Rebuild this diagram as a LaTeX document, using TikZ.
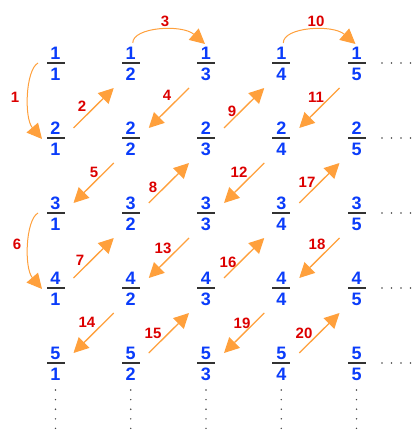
\documentclass[tikz,border=0pt]{standalone}
\usepackage{fontspec}
\setmainfont{Liberation Sans}
\usetikzlibrary{arrows.meta,calc}
\definecolor{arrowc}{RGB}{255,160,60}
\definecolor{numc}{RGB}{10,60,250}
\definecolor{labc}{RGB}{220,0,0}
\definecolor{barc}{RGB}{50,50,50}
\definecolor{dotc}{RGB}{70,70,70}
\newcommand\arrUp[2]{\draw[arr] ($(#1)+(18,-10)$) -- ($(#2)+(-17,25)$);}
\newcommand\arrDn[2]{\draw[arr] ($(#2)+(-17,25)$) -- ($(#1)+(18,-10)$);}
\begin{document}
\begin{tikzpicture}[x=1pt,y=-1pt,
  barst/.style={rectangle, fill=barc, minimum width=18pt, minimum height=2pt, inner sep=0pt, outer sep=0pt},
  digst/.style={font=\fontsize{18}{18}\selectfont\bfseries, text=numc, inner sep=0pt, text height=12.9pt, text depth=0pt},
  lbl/.style={font=\fontsize{15}{15}\selectfont\bfseries, text=labc, inner sep=0pt},
  arr/.style={draw=arrowc, line width=1.3pt, -{Triangle[length=15pt,width=15pt]}},
  carr/.style={arr, line width=1pt},
]
\useasboundingbox (0,0) rectangle (417,430);
\foreach \r in {1,...,5} {
  \foreach \c in {1,...,5} {
    \node[barst,
      label={[digst, label distance=2pt]above:\r},
      label={[digst, label distance=3pt]below:\c}] (f\r\c) at ({55.5+75.25*(\c-1)}, {63+75*(\r-1)}) {};
  }
}
% curved arrows
\draw[carr] ($(f11)+(-17.5,0)$) .. controls ($(f11)+(-30,7)$) and ($(f21)+(-31.5,-20)$) .. ($(f21)+(-13.5,1)$);
\draw[carr] ($(f31)+(-17.5,0)$) .. controls ($(f31)+(-30,7)$) and ($(f41)+(-31.5,-20)$) .. ($(f41)+(-13.5,1)$);
\draw[carr] ($(f12)+(2,-20)$) .. controls ($(f12)+(2,-36)$) and ($(f13)+(-24,-39)$) .. ($(f13)+(-1,-19)$);
\draw[carr] ($(f14)+(2,-20)$) .. controls ($(f14)+(2,-36)$) and ($(f15)+(-24,-39)$) .. ($(f15)+(-1,-19)$);
% diagonal arrows
\arrUp{f21}{f12}
\arrDn{f22}{f13}
\arrDn{f31}{f22}
\arrUp{f41}{f32}
\arrUp{f32}{f23}
\arrUp{f23}{f14}
\arrDn{f24}{f15}
\arrDn{f33}{f24}
\arrDn{f42}{f33}
\arrDn{f51}{f42}
\arrUp{f52}{f43}
\arrUp{f43}{f34}
\arrUp{f34}{f25}
\arrDn{f44}{f35}
\arrDn{f53}{f44}
\arrUp{f54}{f45}
% labels
\node[lbl] (l1) at (15,97) {1};
\node[lbl] (l2) at (82,106.5) {2};
\node[lbl] (l3) at (165,21) {3};
\node[lbl] (l4) at (167,95) {4};
\node[lbl] (l5) at (94,172) {5};
\node[lbl] (l6) at (17,244) {6};
\node[lbl] (l7) at (80,260) {7};
\node[lbl] (l8) at (153,187) {8};
\node[lbl] (l9) at (232,111) {9};
\node[lbl] (l10) at (316,21) {10};
\node[lbl] (l11) at (316,97) {11};
\node[lbl] (l12) at (239,172) {12};
\node[lbl] (l13) at (163,248) {13};
\node[lbl] (l14) at (87,322) {14};
\node[lbl] (l15) at (153,333) {15};
\node[lbl] (l16) at (228,262) {16};
\node[lbl] (l17) at (307,182) {17};
\node[lbl] (l18) at (317,244) {18};
\node[lbl] (l19) at (242,323) {19};
\node[lbl] (l20) at (304,333) {20};
% dots
\foreach \r in {1,...,5} {
  \foreach \x in {382,391.5,401,410.5} {
    \fill[dotc] (\x,{63+75*(\r-1)}) circle (0.8);
  }
}
\foreach \c in {1,...,5} {
  \foreach \y in {390,399.6,409.2,418.8,428.4} {
    \fill[dotc] ({55.5+75.25*(\c-1)},\y) circle (0.8);
  }
}
\end{tikzpicture}
\end{document}
